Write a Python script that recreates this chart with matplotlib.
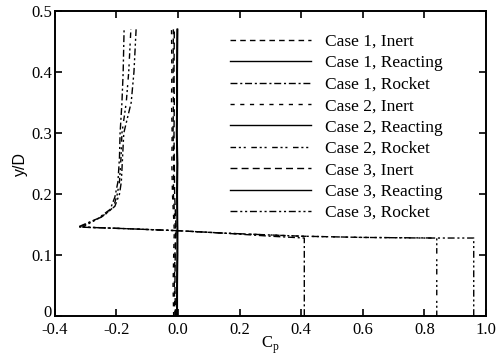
import matplotlib
matplotlib.use('Agg')
import matplotlib.pyplot as plt
import matplotlib.transforms as mtransforms
import numpy as np

# Inert / reacting profiles: nearly vertical lines around Cp ~ 0
y_near = [0.0, 0.05, 0.10, 0.14, 0.20, 0.25, 0.30, 0.35, 0.40, 0.47]
cp_inert_1 = [-0.010, -0.012, -0.010, -0.008, -0.015, -0.014, -0.016, -0.015, -0.016, -0.015]
cp_inert_2 = [-0.014, -0.016, -0.014, -0.012, -0.018, -0.020, -0.019, -0.021, -0.020, -0.021]
cp_inert_3 = [-0.008, -0.010, -0.009, -0.006, -0.011, -0.012, -0.013, -0.012, -0.013, -0.012]
cp_react_1 = [-0.003, -0.003, -0.002, -0.002, -0.003, -0.002, -0.004, -0.003, -0.003, -0.002]
cp_react_2 = [-0.004, -0.004, -0.003, -0.002, -0.004, -0.003, -0.005, -0.004, -0.004, -0.003]
cp_react_3 = [-0.002, -0.002, -0.001, -0.001, -0.002, -0.001, -0.003, -0.002, -0.002, -0.001]

# Rocket profiles: constant Cp up to the shear layer, then sharp drop
y_rocket_1 = [0.0, 0.128, 0.131, 0.136, 0.140, 0.143, 0.146, 0.160, 0.175, 0.195, 0.22, 0.26, 0.30, 0.35, 0.40, 0.47]
cp_rocket_1 = [0.41, 0.41, 0.30, 0.15, 0.0, -0.15, -0.325, -0.26, -0.22, -0.205, -0.195, -0.19, -0.188, -0.182, -0.178, -0.175]
y_rocket_2 = [0.0, 0.128, 0.129, 0.131, 0.136, 0.140, 0.143, 0.146, 0.162, 0.178, 0.198, 0.22, 0.26, 0.30, 0.35, 0.40, 0.47]
cp_rocket_2 = [0.84, 0.84, 0.60, 0.40, 0.15, 0.0, -0.15, -0.32, -0.25, -0.21, -0.198, -0.19, -0.185, -0.182, -0.168, -0.160, -0.153]
y_rocket_3 = [0.0, 0.128, 0.128, 0.129, 0.131, 0.136, 0.140, 0.143, 0.146, 0.165, 0.18, 0.20, 0.22, 0.26, 0.30, 0.35, 0.40, 0.47]
cp_rocket_3 = [0.96, 0.96, 0.80, 0.60, 0.40, 0.15, 0.0, -0.15, -0.31, -0.24, -0.205, -0.19, -0.184, -0.18, -0.176, -0.152, -0.143, -0.136]

plt.rcParams['font.family'] = ['Liberation Serif', 'DejaVu Serif']

fig = plt.figure(figsize=(4.98, 3.56), dpi=100)
ax = fig.add_axes([0.11, 0.112, 0.866, 0.857])

lw = 1.0
ax.plot(cp_inert_1, y_near, color='black', lw=lw, dashes=(4, 3), label='Case 1, Inert')
ax.plot(cp_react_1, y_near, color='black', lw=lw, label='Case 1, Reacting')
ax.plot(cp_rocket_1, y_rocket_1, color='black', lw=lw, dashes=(5, 2, 1.5, 2), label='Case 1, Rocket')
ax.plot(cp_inert_2, y_near, color='black', lw=lw, dashes=(3, 4), label='Case 2, Inert')
ax.plot(cp_react_2, y_near, color='black', lw=lw, label='Case 2, Reacting')
ax.plot(cp_rocket_2, y_rocket_2, color='black', lw=lw, dashes=(4, 2, 1.5, 2, 1.5, 4), label='Case 2, Rocket')
ax.plot(cp_inert_3, y_near, color='black', lw=lw, dashes=(5, 3), label='Case 3, Inert')
ax.plot(cp_react_3, y_near, color='black', lw=lw, label='Case 3, Reacting')
ax.plot(cp_rocket_3, y_rocket_3, color='black', lw=lw, dashes=(5, 2, 1.5, 2, 1.5, 2), label='Case 3, Rocket')

ax.set_xlim(-0.4, 1.0)
ax.set_ylim(0, 0.5)
ax.set_xticks(np.arange(-0.4, 1.01, 0.2))
ax.set_xticklabels(['-0.4', '-0.2', '0.0', '0.2', '0.4', '0.6', '0.8', '1.0'])
ax.set_yticks([0, 0.1, 0.2, 0.3, 0.4, 0.5])
ax.set_yticklabels(['0', '0.1', '0.2', '0.3', '0.4', '0.5'])
ax.tick_params(direction='in', top=True, right=True, length=5, width=1.2, labelsize=12, pad=4)
ax.tick_params(axis='y', pad=2)
for s in ax.spines.values():
    s.set_linewidth(1.4)

# lift the "0" y label a little so it clears "-0.4"
lbl0 = ax.get_yticklabels()[0]
lbl0.set_transform(lbl0.get_transform() + mtransforms.ScaledTranslation(0, 4 / 72, fig.dpi_scale_trans))

ax.set_xlabel(r'C$_\mathregular{p}$', fontsize=12, labelpad=-2)
ax.set_ylabel('y/D', fontsize=11.5, family=['Liberation Sans', 'DejaVu Sans'], labelpad=2)

ax.legend(loc='upper left', bbox_to_anchor=(0.406, 0.925), frameon=False, fontsize=12.5,
          borderpad=0, borderaxespad=0, labelspacing=0.3, handlelength=4.7,
          handletextpad=0.8)

fig.savefig('out.png', dpi=100)
